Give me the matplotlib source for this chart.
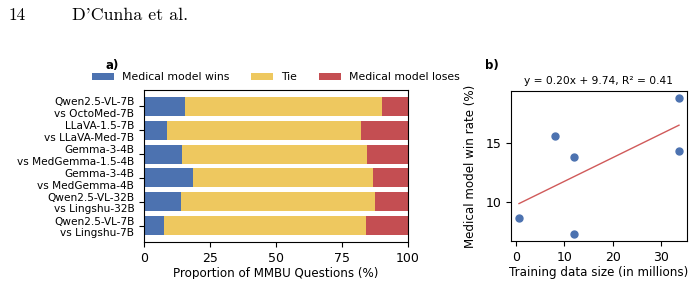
import matplotlib
matplotlib.use("Agg")
import matplotlib.pyplot as plt
import numpy as np
from matplotlib.patches import Rectangle

# ---- data ----
pairs = ["Qwen2.5-VL-7B\nvs OctoMed-7B",
         "LLaVA-1.5-7B\nvs LLaVA-Med-7B",
         "Gemma-3-4B\nvs MedGemma-1.5-4B",
         "Gemma-3-4B\nvs MedGemma-4B",
         "Qwen2.5-VL-32B\nvs Lingshu-32B",
         "Qwen2.5-VL-7B\nvs Lingshu-7B"]
wins = [15.5, 8.6, 14.4, 18.6, 14.0, 7.6]
ties = [74.7, 73.6, 70.1, 68.1, 73.5, 76.5]
loses = [9.8, 17.8, 15.5, 13.3, 12.5, 15.9]
series_names = ["Medical model wins", "Tie", "Medical model loses"]
series_colors = ["#4c72b0", "#eec85f", "#c44e52"]
xticks_a = [0, 25, 50, 75, 100]

train_size = [0.6, 8.0, 12.0, 12.0, 33.7, 33.7]
win_rate = [8.7, 15.56, 13.83, 7.31, 18.78, 14.33]
fit_title = "y = 0.20x + 9.74, R² = 0.41"

W, H = 696, 301
fig = plt.figure(figsize=(W / 100, H / 100), dpi=100)

def px_axes(l, t, r, b):
    return fig.add_axes([l / W, 1 - b / H, (r - l) / W, (b - t) / H])

# header
fig.text(8 / W, 1 - 15 / H, "14", family=["cmr10", "DejaVu Serif"], fontsize=12.3, va="center", ha="left")
fig.text(72 / W, 1 - 15 / H, "D'Cunha et al.", family=["cmr10", "DejaVu Serif"], fontsize=12.9,
         va="center", ha="left")

# ---- panel a ----
ax = px_axes(144, 90, 408, 242)
y = np.arange(len(pairs))
left = np.zeros(len(pairs))
for vals, name, col in zip([wins, ties, loses], series_names, series_colors):
    ax.barh(y, vals, left=left, height=0.8, color=col, label=name)
    left = left + np.array(vals)
ax.set_yticks(y)
ax.set_yticklabels(pairs, fontsize=7.6)
ax.invert_yaxis()
ax.set_xlim(0, 100)
ax.set_xticks(xticks_a)
ax.tick_params(axis="x", labelsize=9)
ax.set_xlabel("Proportion of MMBU Questions (%)", fontsize=8.6, labelpad=1.5)
ax.legend(loc="lower center", bbox_to_anchor=(0.5, 1.0), ncol=3, frameon=False,
          fontsize=7.8, borderaxespad=0.3, handlelength=2.0, columnspacing=2.0)
fig.text(105 / W, 1 - 65 / H, "a)", fontsize=8.5, fontweight="bold", va="center", ha="left")

# ---- panel b ----
bx = px_axes(511, 91, 687, 241)
bx.scatter(train_size, win_rate, s=25, color="#4c72b0", zorder=3)
coef = np.polyfit(train_size, win_rate, 1)
xs = np.array([min(train_size), max(train_size)])
bx.plot(xs, np.polyval(coef, xs), color="#d05a5a", lw=1)
bx.set_yticks([10, 15])
bx.tick_params(labelsize=9)
bx.set_xlabel("Training data size (in millions)", fontsize=8.6, labelpad=1.5)
bx.set_ylabel("Medical model win rate (%)", fontsize=8.6, labelpad=6)
bx.set_title(fit_title, fontsize=7.7, pad=5)
fig.text(485 / W, 1 - 66 / H, "b)", fontsize=8.5, fontweight="bold", va="center", ha="left")

# page crop below
fig.add_artist(Rectangle((0, 0), 1, (H - 279) / H, transform=fig.transFigure,
                         facecolor="white", edgecolor="none", zorder=20))

fig.savefig("out.png", dpi=100)
